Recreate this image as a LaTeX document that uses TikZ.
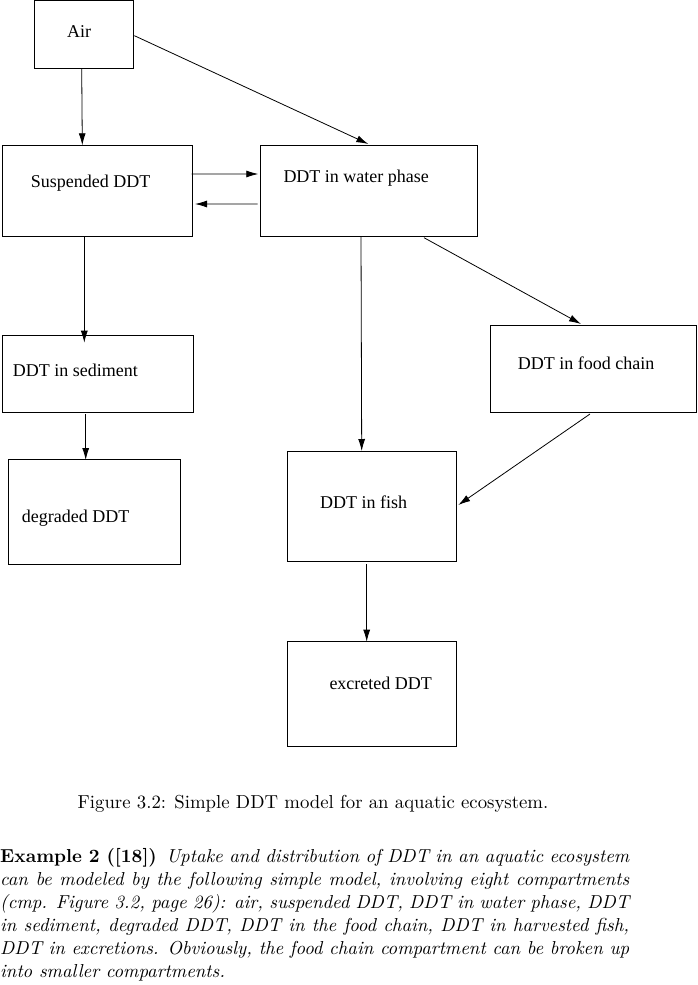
\documentclass[tikz,border=0pt]{standalone}
\usepackage{fontspec}
\usepackage{graphicx}
\newfontfamily\tms{Liberation Serif}
\usetikzlibrary{arrows.meta}
\begin{document}
\begin{tikzpicture}[x=1pt,y=-1pt,
  box/.style={draw, line width=0.9pt, rectangle, inner sep=0pt, outer sep=0pt, anchor=north west},
  lbl/.style={anchor=base west, inner sep=0pt, font=\tms\fontsize{18}{20}\selectfont},
  arr/.style={-{Latex[length=12pt,width=7pt]}, line width=0.8pt},
  txt/.style={anchor=base west, inner sep=0pt}
]
\path[fill=white, use as bounding box] (0,0) rectangle (697,985);

% boxes
\node[box, minimum width=99.4pt,  minimum height=68.3pt]  (air)   at (34.3,0) {};
\node[box, minimum width=189.6pt, minimum height=91.4pt]  (susp)  at (2.7,145.3) {};
\node[box, minimum width=217.4pt, minimum height=91.7pt]  (water) at (260.3,145) {};
\node[box, minimum width=206pt,   minimum height=87.7pt]  (food)  at (490.3,325) {};
\node[box, minimum width=191pt,   minimum height=77.3pt]  (sed)   at (2.3,335) {};
\node[box, minimum width=172.4pt, minimum height=105pt]   (deg)   at (8.3,459.3) {};
\node[box, minimum width=169.4pt, minimum height=110pt]   (fish)  at (287.3,451) {};
\node[box, minimum width=169.4pt, minimum height=105pt]   (excr)  at (287.3,641) {};

% labels
\node[lbl] (tair)   at (67,37.5)    {Air};
\node[lbl] (tsusp)  at (30.7,187)   {Suspended DDT};
\node[lbl] (twater) at (283.3,182.5){DDT in water phase};
\node[lbl] (tfood)  at (517.7,369.5){DDT in food chain};
\node[lbl] (tsed)   at (12.7,376)   {DDT in sediment};
\node[lbl] (tdeg)   at (21.7,522)   {degraded DDT};
\node[lbl] (tfish)  at (320,508)    {DDT in fish};
\node[lbl] (texcr)  at (329.3,689)  {excreted DDT};

% connectors
\draw[arr] ([xshift=-2.3pt]air.south) -- ([xshift=-15.2pt]susp.north);
\draw[arr] ([xshift=0.6pt,yshift=-1.5pt]air.east) -- ([xshift=-0.7pt,yshift=1pt]water.north);
\draw[arr] ([xshift=-0.6pt,yshift=17pt]susp.east) -- ([xshift=-2pt,yshift=16.85pt]water.west);
\draw[arr] ([xshift=-2.6pt,yshift=-13.15pt]water.west) -- ([xshift=2.7pt,yshift=-13pt]susp.east);
\draw[arr] ([xshift=-13.2pt,yshift=-0.6pt]susp.south) -- ([xshift=-13.5pt,yshift=-7.7pt]sed.north);
\draw[arr] ([xshift=-12.1pt,yshift=-2pt]sed.south) -- ([xshift=-8.8pt,yshift=-0.7pt]deg.north);
\draw[arr] ([xshift=-8pt]water.south) -- ([xshift=-10.3pt]fish.north);
\draw[arr] ([xshift=55pt,yshift=-1pt]water.south) -- ([xshift=-12.3pt,yshift=1pt]food.north);
\draw[arr] ([xshift=-3.3pt,yshift=-1.3pt]food.south) -- ([xshift=1.6pt,yshift=1pt]fish.east);
\draw[arr] ([xshift=-5.3pt,yshift=-3pt]fish.south) -- ([xshift=-5.3pt,yshift=-0.7pt]excr.north);

% caption and paragraph
\node[txt] (cap) at (77.5,808) {\scalebox{1.876}{\fontsize{10}{11}\selectfont Figure 3.2: Simple DDT model for an aquatic ecosystem.}};
\node[txt] (para) at (0,862.5) {\scalebox{1.876}{\parbox[t]{335.3pt}{\fontsize{10}{12.26}\selectfont\noindent\textbf{Example 2 ([18])}\enspace\textit{Uptake and distribution of DDT in an aquatic ecosystem\linebreak can be modeled by the following simple model, involving eight compartments\linebreak (cmp. Figure 3.2, page 26): air, suspended DDT, DDT in water phase, DDT\linebreak in sediment, degraded DDT, DDT in the food chain, DDT in harvested fish,\linebreak DDT in excretions. Obviously, the food chain compartment can be broken up\linebreak into smaller compartments.}}}};
\end{tikzpicture}
\end{document}
